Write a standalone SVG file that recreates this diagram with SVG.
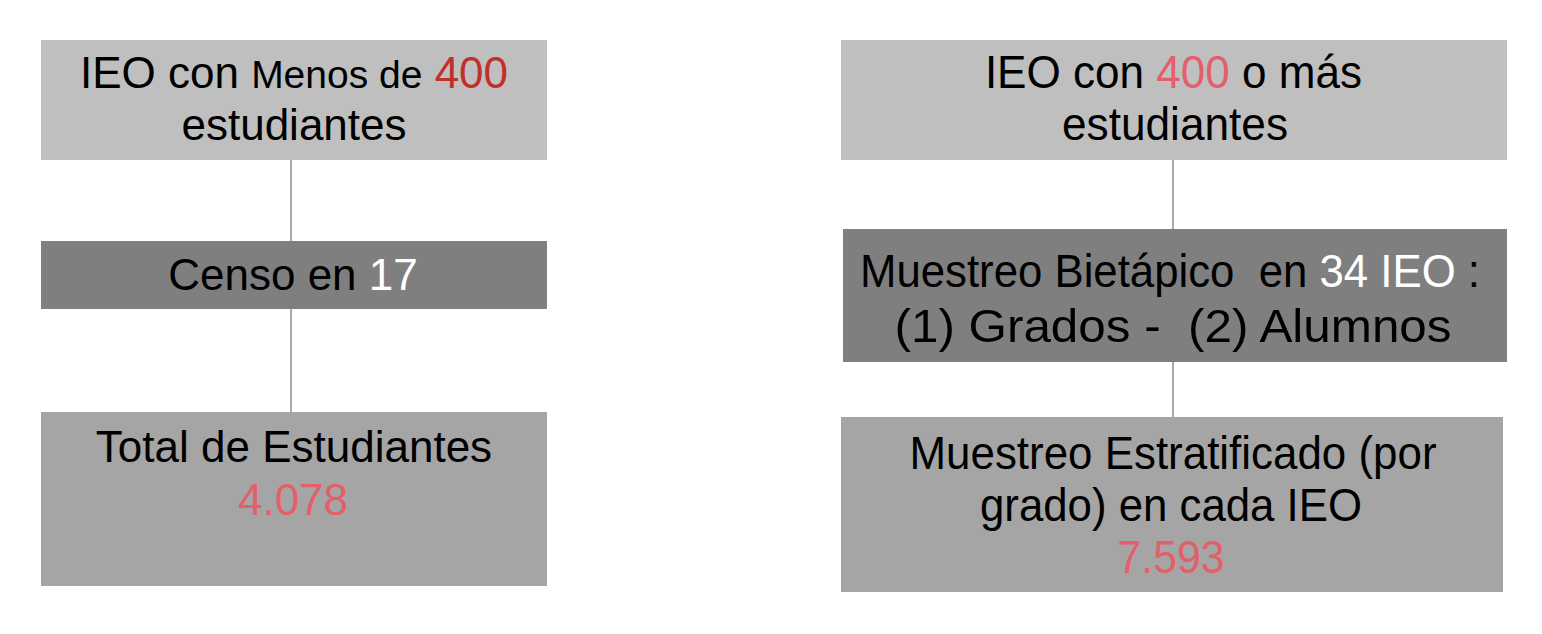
<svg xmlns="http://www.w3.org/2000/svg" width="1542" height="634" viewBox="0 0 1542 634">
<style>
.t{font-family:"Liberation Sans",Arial,sans-serif;font-size:44px;fill:#000;text-anchor:middle}
.r{font-family:"Liberation Sans",Arial,sans-serif;font-size:47px;fill:#000;text-anchor:middle}
.light{fill:#bfbfbf}
.dark{fill:#7f7f7f}
.mid{fill:#a5a5a5}
.red{fill:#c0302a}
.pink{fill:#e35f6a}
.wh{fill:#ffffff}
.c{stroke:#8c8c8c;stroke-width:1.5;fill:none}
</style>
<rect width="1542" height="634" fill="#ffffff"/>
<g id="connectors">
<line class="c" x1="291" y1="160" x2="291" y2="241"/>
<line class="c" x1="291" y1="309" x2="291" y2="412"/>
<line class="c" x1="1173" y1="160" x2="1173" y2="229"/>
<line class="c" x1="1173" y1="362" x2="1173" y2="417"/>
</g>
<g id="n1">
<rect class="light" x="41" y="40" width="506" height="120"/>
<text class="t" x="294" y="88">IEO con <tspan font-size="39">Menos de</tspan> <tspan class="red">400</tspan></text>
<text class="t" x="294" y="140">estudiantes</text>
</g>
<g id="n2">
<rect class="dark" x="41" y="241" width="506" height="68"/>
<text class="t" x="293" y="290">Censo en <tspan class="wh">17</tspan></text>
</g>
<g id="n3">
<rect class="mid" x="41" y="412" width="506" height="174"/>
<text class="t" x="294" y="462">Total de Estudiantes</text>
<text class="t pink" x="293" y="515">4.078</text>
</g>
<g id="n4">
<rect class="light" x="841" y="40" width="666" height="120"/>
<text class="r" transform="translate(1173.5,88) scale(0.938,1)" x="0" y="0">IEO con <tspan class="pink">400</tspan> o más</text>
<text class="r" x="1175" y="140" textLength="226" lengthAdjust="spacingAndGlyphs">estudiantes</text>
</g>
<g id="n5">
<rect class="dark" x="843" y="229" width="664" height="133"/>
<text class="r" transform="translate(1170,287) scale(0.931,1)" x="0" y="0" xml:space="preserve">Muestreo Bietápico  en <tspan class="wh">34 IEO</tspan> :</text>
<text class="r" x="1173" y="342" textLength="557" lengthAdjust="spacingAndGlyphs" xml:space="preserve">(1) Grados -  (2) Alumnos</text>
</g>
<g id="n6">
<rect class="mid" x="841" y="417" width="662" height="175"/>
<text class="r" x="1173" y="469" textLength="527" lengthAdjust="spacingAndGlyphs">Muestreo Estratificado (por</text>
<text class="r" x="1171" y="521" textLength="382" lengthAdjust="spacingAndGlyphs">grado) en cada IEO</text>
<text class="r pink" x="1171" y="573" textLength="107" lengthAdjust="spacingAndGlyphs">7.593</text>
</g>
</svg>
